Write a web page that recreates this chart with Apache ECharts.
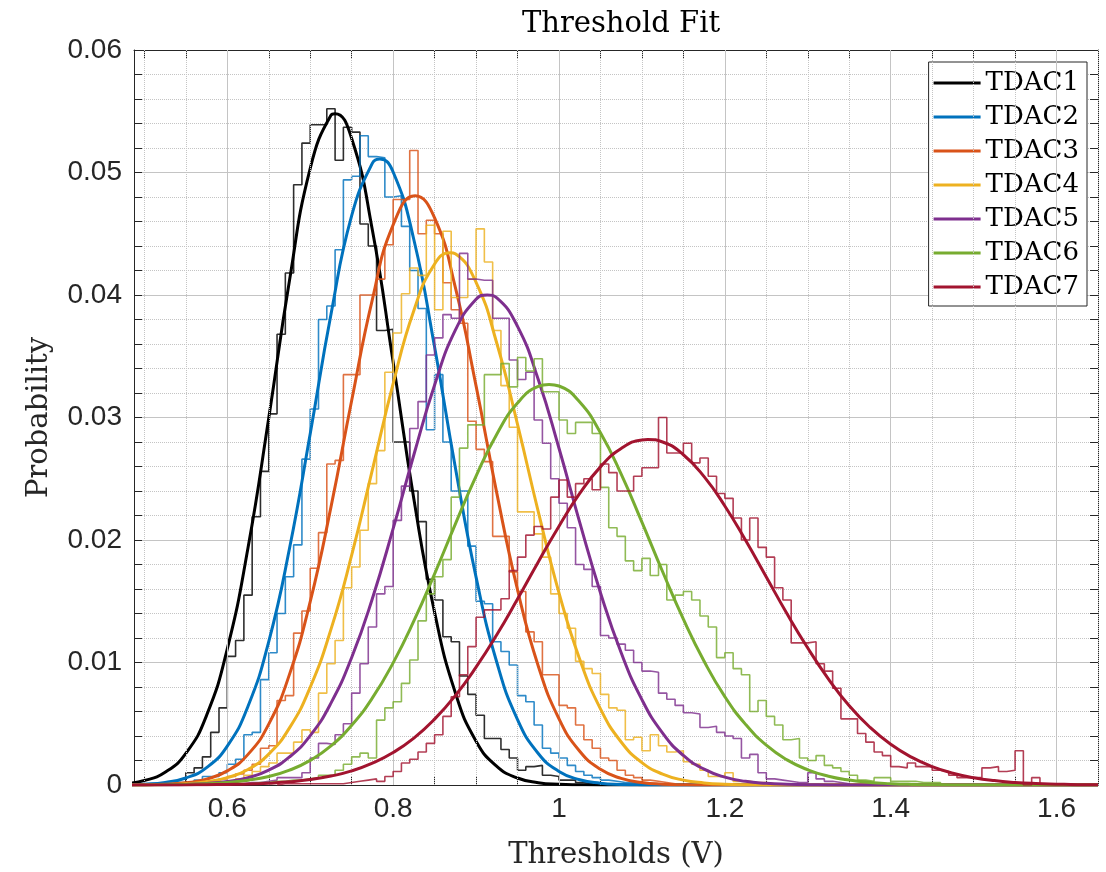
<!DOCTYPE html>
<html>
<head>
<meta charset="utf-8">
<script src="https://cdn.jsdelivr.net/npm/echarts@6/dist/echarts.min.js"></script>
<style>
html,body{margin:0;padding:0;background:#ffffff;}
#chart{width:1106px;height:872px;}
</style>
</head>
<body>
<div id="chart"></div>
<script>
// ---------------- data ----------------
const seriesNames = ['TDAC1', 'TDAC2', 'TDAC3', 'TDAC4', 'TDAC5', 'TDAC6', 'TDAC7'];
const BIN_WIDTH = 0.01;

// x positions at which the fitted curves were read
const fitX = [0.475, 0.5, 0.525, 0.55, 0.575, 0.6, 0.625, 0.65, 0.675, 0.7, 0.725, 0.75, 0.775, 0.8, 0.825, 0.85,
  0.875, 0.9, 0.925, 0.95, 0.975, 1, 1.025, 1.05, 1.075, 1.1, 1.125, 1.15, 1.175, 1.2, 1.225, 1.25, 1.275, 1.3,
  1.325, 1.35, 1.375, 1.4, 1.425, 1.45, 1.475, 1.5, 1.525, 1.55, 1.575, 1.6, 1.625, 1.65];

const fitTDAC1 = [0.00012, 0.00037, 0.00104, 0.00258, 0.00568, 0.01112, 0.01937, 0.02996, 0.04119, 0.05034, 0.05467,
  0.05277, 0.04528, 0.03452, 0.02334, 0.01409, 0.00753, 0.00358, 0.00152, 0.00057, 0.00019, 0.00006, 0.00002,
  0, 0, 0, 0, 0, 0, 0, 0, 0, 0, 0, 0, 0, 0, 0, 0, 0, 0, 0, 0, 0, 0, 0, 0, 0];
const fitTDAC2 = [0.00002, 0.00007, 0.00021, 0.00057, 0.00142, 0.00318, 0.00643, 0.01171, 0.01930, 0.02867, 0.03841,
  0.04648, 0.05076, 0.05004, 0.04451, 0.03575, 0.02592, 0.01697, 0.01002, 0.00534, 0.00257, 0.00111, 0.00043,
  0.00015, 0.00005, 0.00001, 0, 0, 0, 0, 0, 0, 0, 0, 0, 0, 0, 0, 0, 0, 0, 0, 0, 0, 0, 0, 0, 0];
const fitTDAC3 = [0.00001, 0.00002, 0.00006, 0.00018, 0.00048, 0.00115, 0.00250, 0.00497, 0.00903, 0.01497, 0.02268,
  0.03139, 0.03964, 0.04572, 0.04814, 0.04629, 0.04062, 0.03258, 0.02383, 0.01594, 0.00972, 0.00541, 0.00275,
  0.00128, 0.00054, 0.00021, 0.00007, 0.00002, 0, 0, 0, 0, 0, 0, 0, 0, 0, 0, 0, 0, 0, 0, 0, 0, 0, 0, 0, 0];
const fitTDAC4 = [0, 0.00001, 0.00004, 0.00010, 0.00026, 0.00060, 0.00127, 0.00252, 0.00466, 0.00798, 0.01270,
  0.01876, 0.02574, 0.03276, 0.03874, 0.04253, 0.04336, 0.04104, 0.03606, 0.02944, 0.02231, 0.01569, 0.01026,
  0.00622, 0.00351, 0.00183, 0.00089, 0.00040, 0.00017, 0.00006, 0.00002, 0, 0, 0, 0, 0, 0, 0, 0, 0, 0, 0, 0,
  0, 0, 0, 0, 0];
const fitTDAC5 = [0, 0.00001, 0.00002, 0.00005, 0.00013, 0.00029, 0.00060, 0.00122, 0.00229, 0.00403, 0.00668,
  0.01041, 0.01523, 0.02093, 0.02696, 0.03265, 0.03713, 0.03965, 0.03976, 0.03744, 0.03310, 0.02749, 0.02144,
  0.01570, 0.01079, 0.00697, 0.00423, 0.00241, 0.00129, 0.00064, 0.00030, 0.00014, 0.00006, 0.00002, 0.00001,
  0, 0, 0, 0, 0, 0, 0, 0, 0, 0, 0, 0, 0];
const fitTDAC6 = [0, 0.00001, 0.00002, 0.00005, 0.00010, 0.00021, 0.00039, 0.00070, 0.00121, 0.00201, 0.00319,
  0.00487, 0.00711, 0.00997, 0.01339, 0.01724, 0.02130, 0.02522, 0.02864, 0.03118, 0.03254, 0.03257, 0.03126,
  0.02875, 0.02537, 0.02146, 0.01741, 0.01354, 0.01010, 0.00721, 0.00495, 0.00325, 0.00205, 0.00124, 0.00072,
  0.00040, 0.00021, 0.00011, 0.00005, 0.00002, 0.00001, 0, 0, 0, 0, 0, 0, 0];
const fitTDAC7 = [0, 0, 0.00001, 0.00001, 0.00002, 0.00005, 0.00008, 0.00015, 0.00026, 0.00044, 0.00073, 0.00115,
  0.00178, 0.00265, 0.00383, 0.00538, 0.00730, 0.00962, 0.01226, 0.01518, 0.01821, 0.02113, 0.02380, 0.02597,
  0.02747, 0.02817, 0.02800, 0.02696, 0.02517, 0.02278, 0.01997, 0.01698, 0.01398, 0.01118, 0.00865, 0.00647,
  0.00471, 0.00332, 0.00227, 0.00150, 0.00096, 0.00060, 0.00036, 0.00021, 0.00012, 0.00007, 0.00003, 0.00002];

// top of each fitted curve [x, probability]
const fitPeakTDAC1 = [0.730, 0.0548];
const fitPeakTDAC2 = [0.784, 0.0511];
const fitPeakTDAC3 = [0.8265, 0.0481];
const fitPeakTDAC4 = [0.869, 0.04345];
const fitPeakTDAC5 = [0.9135, 0.0400];
const fitPeakTDAC6 = [0.988, 0.0327];
const fitPeakTDAC7 = [1.107, 0.0282];

// histogram: left edge of first bin, then probability of each 0.01-wide bin
const histStartTDAC1 = 0.52;
const histTDAC1 = [0.0001, 0.0002, 0.0002, 0.0010, 0.0014, 0.0023, 0.0043, 0.0063, 0.0105, 0.0118, 0.0155, 0.0219,
  0.0256, 0.0303, 0.0368, 0.0418, 0.0490, 0.0524, 0.0539, 0.0539, 0.0552, 0.0510, 0.0537, 0.0533, 0.0458, 0.0440,
  0.0371, 0.0372, 0.0280, 0.0280, 0.0240, 0.0215, 0.0168, 0.0151, 0.0121, 0.0117, 0.0089, 0.0074, 0.0057, 0.0038,
  0.0038, 0.0029, 0.0022, 0.0012, 0.0015, 0.0016, 0.0008, 0.0007, 0.0004, 0.0004, 0.0002, 0.0001];
const histStartTDAC2 = 0.53;
const histTDAC2 = [0.0001, 0.0001, 0.0002, 0.0004, 0.0007, 0.0007, 0.0010, 0.0017, 0.0021, 0.0041, 0.0043, 0.0086,
  0.0108, 0.0140, 0.0170, 0.0196, 0.0266, 0.0307, 0.0380, 0.0391, 0.0437, 0.0494, 0.0497, 0.0530, 0.0513, 0.0512,
  0.0480, 0.0481, 0.0456, 0.0420, 0.0389, 0.0290, 0.0335, 0.0280, 0.0240, 0.0240, 0.0195, 0.0150, 0.0148, 0.0117,
  0.0109, 0.0098, 0.0073, 0.0068, 0.0049, 0.0030, 0.0026, 0.0022, 0.0016, 0.0011, 0.0008, 0.0006, 0.0004, 0.0003,
  0.0002, 0.0002, 0.0001, 0.0001];
const histStartTDAC3 = 0.55;
const histTDAC3 = [0.0001, 0.0001, 0.0002, 0.0003, 0.0005, 0.0007, 0.0009, 0.0012, 0.0017, 0.0030, 0.0032, 0.0069,
  0.0073, 0.0124, 0.0142, 0.0177, 0.0206, 0.0262, 0.0265, 0.0335, 0.0335, 0.0400, 0.0400, 0.0413, 0.0441, 0.0478,
  0.0478, 0.0518, 0.0450, 0.0461, 0.0450, 0.0410, 0.0388, 0.0377, 0.0297, 0.0274, 0.0264, 0.0203, 0.0203, 0.0174,
  0.0158, 0.0125, 0.0117, 0.0090, 0.0090, 0.0065, 0.0063, 0.0049, 0.0037, 0.0030, 0.0022, 0.0020, 0.0012, 0.0008,
  0.0006, 0.0004, 0.0003, 0.0002, 0.0001];
const histStartTDAC4 = 0.58;
const histTDAC4 = [0.0001, 0.0002, 0.0003, 0.0005, 0.0008, 0.0011, 0.0015, 0.0018, 0.0026, 0.0026, 0.0035, 0.0045,
  0.0043, 0.0075, 0.0099, 0.0118, 0.0161, 0.0178, 0.0208, 0.0246, 0.0273, 0.0337, 0.0369, 0.0401, 0.0422, 0.0416,
  0.0457, 0.0388, 0.0452, 0.0398, 0.0398, 0.0413, 0.0454, 0.0427, 0.0371, 0.0326, 0.0292, 0.0223, 0.0223, 0.0205,
  0.0186, 0.0156, 0.0140, 0.0128, 0.0101, 0.0095, 0.0091, 0.0074, 0.0063, 0.0061, 0.0037, 0.0039, 0.0028, 0.0041,
  0.0032, 0.0027, 0.0028, 0.0019, 0.0017, 0.0012, 0.0007, 0.0007, 0.0010, 0.0003, 0.0003, 0.0002, 0.0002, 0.0001];
const histStartTDAC5 = 0.60;
const histTDAC5 = [0.0001, 0.0001, 0.0002, 0.0002, 0.0003, 0.0004, 0.0006, 0.0006, 0.0006, 0.0010, 0.0022, 0.0034,
  0.0033, 0.0041, 0.0050, 0.0075, 0.0099, 0.0129, 0.0156, 0.0162, 0.0216, 0.0244, 0.0291, 0.0313, 0.0351, 0.0365,
  0.0384, 0.0381, 0.0434, 0.0413, 0.0412, 0.0412, 0.0381, 0.0381, 0.0347, 0.0331, 0.0337, 0.0298, 0.0279, 0.0250,
  0.0230, 0.0210, 0.0180, 0.0176, 0.0162, 0.0122, 0.0120, 0.0115, 0.0110, 0.0100, 0.0093, 0.0092, 0.0075, 0.0070,
  0.0065, 0.0059, 0.0058, 0.0047, 0.0048, 0.0043, 0.0040, 0.0038, 0.0022, 0.0025, 0.0010, 0.0005, 0.0004, 0.0003,
  0.0002, 0.0002, 0.0010, 0.0005, 0.0003, 0.0002, 0.0001];
const histStartTDAC6 = 0.60;
const histTDAC6 = [0.0001, 0.0001, 0.0001, 0.0002, 0.0002, 0.0003, 0.0003, 0.0004, 0.0004, 0.0005, 0.0006, 0.0008,
  0.0008, 0.0012, 0.0017, 0.0023, 0.0026, 0.0022, 0.0053, 0.0063, 0.0068, 0.0083, 0.0102, 0.0134, 0.0156, 0.0170,
  0.0184, 0.0235, 0.0275, 0.0294, 0.0294, 0.0335, 0.0335, 0.0344, 0.0325, 0.0349, 0.0338, 0.0348, 0.0321, 0.0321,
  0.0298, 0.0287, 0.0296, 0.0296, 0.0287, 0.0243, 0.0210, 0.0203, 0.0183, 0.0175, 0.0185, 0.0171, 0.0180, 0.0151,
  0.0155, 0.0158, 0.0151, 0.0138, 0.0129, 0.0104, 0.0108, 0.0095, 0.0090, 0.0060, 0.0069, 0.0056, 0.0049, 0.0037,
  0.0038, 0.0022, 0.0020, 0.0024, 0.0016, 0.0014, 0.0011, 0.0008, 0.0004, 0.0003, 0.0006, 0.0006, 0.0003, 0.0003,
  0.0003, 0.0002, 0.0002, 0.0002];
const histStartTDAC7 = 0.66;
const histTDAC7 = [0.0001, 0.0001, 0.0001, 0.0001, 0.0001, 0.0001, 0.0001, 0.0001, 0.0002, 0.0003, 0.0004, 0.0005,
  0.0003, 0.0007, 0.0011, 0.0018, 0.0021, 0.0027, 0.0034, 0.0041, 0.0056, 0.0072, 0.0090, 0.0113, 0.0137, 0.0143,
  0.0143, 0.0152, 0.0175, 0.0186, 0.0204, 0.0211, 0.0209, 0.0235, 0.0249, 0.0235, 0.0246, 0.0250, 0.0241, 0.0262,
  0.0255, 0.0240, 0.0240, 0.0252, 0.0259, 0.0259, 0.0300, 0.0271, 0.0271, 0.0279, 0.0263, 0.0267, 0.0252, 0.0238,
  0.0234, 0.0218, 0.0200, 0.0218, 0.0194, 0.0186, 0.0161, 0.0151, 0.0116, 0.0116, 0.0117, 0.0099, 0.0093, 0.0079,
  0.0054, 0.0054, 0.0042, 0.0035, 0.0027, 0.0024, 0.0015, 0.0014, 0.0018, 0.0015, 0.0015, 0.0012, 0.0011, 0.0008,
  0.0006, 0.0006, 0.0006, 0.0014, 0.0015, 0.0011, 0.0012, 0.0028, 0, 0.0006];

// axis ticks
const xTickValues = [0.5, 0.55, 0.6, 0.65, 0.7, 0.75, 0.8, 0.85, 0.9, 0.95, 1, 1.05, 1.1, 1.15, 1.2, 1.25, 1.3,
  1.35, 1.4, 1.45, 1.5, 1.55, 1.6, 1.65];
const xLabelValues = [0.6, 0.8, 1, 1.2, 1.4, 1.6];
const X_MIN = 0.4875, X_MAX = 1.65;
const Y_MIN = 0, Y_MAX = 0.06, Y_STEP = 0.01;

// ---------------- drawing ----------------
const colors = ['#000000', '#0072BD', '#D95319', '#EDB120', '#7E2F8E', '#77AC30', '#A2142F'];
const fits = [fitTDAC1, fitTDAC2, fitTDAC3, fitTDAC4, fitTDAC5, fitTDAC6, fitTDAC7];
const fitPeaks = [fitPeakTDAC1, fitPeakTDAC2, fitPeakTDAC3, fitPeakTDAC4, fitPeakTDAC5, fitPeakTDAC6, fitPeakTDAC7];
const hists = [histTDAC1, histTDAC2, histTDAC3, histTDAC4, histTDAC5, histTDAC6, histTDAC7];
const histStarts = [histStartTDAC1, histStartTDAC2, histStartTDAC3, histStartTDAC4, histStartTDAC5, histStartTDAC6, histStartTDAC7];

function stairs(start, heights) {
  const pts = [[start, 0]];
  heights.forEach(function (h, i) { pts.push([+(start + i * BIN_WIDTH).toFixed(4), h]); });
  pts.push([+(start + heights.length * BIN_WIDTH).toFixed(4), 0]);
  return pts;
}
function curve(values, peak) {
  const pts = fitX.map(function (x, k) { return [x, values[k]]; })
    .filter(function (p) { return Math.abs(p[0] - peak[0]) > 0.004; });
  pts.push(peak.slice());
  pts.sort(function (a, b) { return a[0] - b[0]; });
  return pts;
}

const AX = '#262626';
const GRID = '#c4c4c4';
const tickFont = { fontFamily: 'Liberation Sans, Arial, sans-serif', fontSize: 28, color: AX };
const serifFont = 'DejaVu Serif, serif';

const majorSet = xLabelValues.map(function (v) { return v.toFixed(2); });
const gridLines = xTickValues.map(function (v) {
  const major = majorSet.indexOf(v.toFixed(2)) >= 0;
  return { xAxis: v, lineStyle: { color: GRID, width: 1, type: major ? 'solid' : 'dotted' } };
});

const series = [{
  name: 'grid', type: 'line', z: 1, silent: true, data: [[X_MIN, 0]],
  showSymbol: false, lineStyle: { opacity: 0 }, animation: false,
  markLine: { silent: true, symbol: ['none', 'none'], label: { show: false }, animation: false, data: gridLines }
}];
for (let i = 0; i < seriesNames.length; i++) {
  series.push({
    name: seriesNames[i] + ' histogram', type: 'line', step: 'end', showSymbol: false, symbol: 'none',
    data: stairs(histStarts[i], hists[i]), z: 2 + 2 * i,
    lineStyle: { color: colors[i], width: 1.6, opacity: 0.82 }, itemStyle: { color: colors[i] }, animation: false
  });
  series.push({
    name: seriesNames[i], type: 'line', smooth: true, showSymbol: false, symbol: 'none',
    data: curve(fits[i], fitPeaks[i]), z: 3 + 2 * i,
    lineStyle: { color: colors[i], width: 3 }, itemStyle: { color: colors[i] }, animation: false
  });
}

const chart = echarts.init(document.getElementById('chart'), null, { renderer: 'canvas' });
chart.setOption({
  animation: false,
  backgroundColor: '#ffffff',
  title: {
    text: 'Threshold Fit', left: 616, top: 5, textAlign: 'center',
    textStyle: { fontFamily: serifFont, fontSize: 29, fontWeight: 'normal', color: '#000' }
  },
  grid: { left: 134, right: 8, top: 50, bottom: 87, containLabel: false, outerBoundsMode: 'none' },
  legend: {
    data: seriesNames, orient: 'vertical', right: 19, top: 62, icon: 'rect',
    backgroundColor: '#ffffff', borderColor: AX, borderWidth: 1, borderRadius: 0,
    padding: [8, 8, 6, 5], itemWidth: 47, itemHeight: 3, itemGap: 8,
    textStyle: { fontFamily: serifFont, fontSize: 26, lineHeight: 26, color: '#000' },
    selectedMode: false
  },
  xAxis: [{
    type: 'value', min: X_MIN, max: X_MAX, position: 'bottom',
    axisLine: { show: true, onZero: false, lineStyle: { color: AX, width: 1 } },
    axisTick: { show: true, inside: true, length: 8, customValues: xTickValues, lineStyle: { color: AX } },
    axisLabel: Object.assign({ show: true, customValues: xLabelValues, margin: 10,
      formatter: function (v) { return String(Math.round(v * 10) / 10); } }, tickFont),
    splitLine: { show: false },
    name: 'Thresholds (V)', nameLocation: 'middle', nameGap: 56,
    nameTextStyle: { fontFamily: serifFont, fontSize: 29, color: AX }
  }, {
    type: 'value', min: X_MIN, max: X_MAX, position: 'top',
    axisLine: { show: true, onZero: false, lineStyle: { color: AX, width: 1 } },
    axisTick: { show: true, inside: true, length: 8, customValues: xTickValues, lineStyle: { color: AX } },
    axisLabel: { show: false }, splitLine: { show: false }
  }],
  yAxis: [{
    type: 'value', min: Y_MIN, max: Y_MAX, interval: Y_STEP, position: 'left',
    axisLine: { show: true, onZero: false, lineStyle: { color: AX, width: 1 } },
    axisTick: { show: true, inside: true, length: 8, lineStyle: { color: AX } },
    minorTick: { show: true, splitNumber: 5, length: 8, lineStyle: { color: AX } },
    axisLabel: Object.assign({ margin: 12, formatter: function (v) { return String(+v.toFixed(2)); } }, tickFont),
    splitLine: { show: true, lineStyle: { color: GRID, width: 1, type: 'solid' } },
    minorSplitLine: { show: true, lineStyle: { color: GRID, width: 1, type: 'dotted' } },
    name: 'Probability', nameLocation: 'middle', nameGap: 80, nameRotate: 90,
    nameTextStyle: { fontFamily: serifFont, fontSize: 29, color: AX }
  }, {
    type: 'value', min: Y_MIN, max: Y_MAX, interval: Y_STEP, position: 'right',
    axisLine: { show: true, onZero: false, lineStyle: { color: AX, width: 1 } },
    axisTick: { show: true, inside: true, length: 8, lineStyle: { color: AX } },
    minorTick: { show: true, splitNumber: 5, length: 8, lineStyle: { color: AX } },
    axisLabel: { show: false }, splitLine: { show: false }
  }],
  series: series
});
</script>
</body>
</html>
